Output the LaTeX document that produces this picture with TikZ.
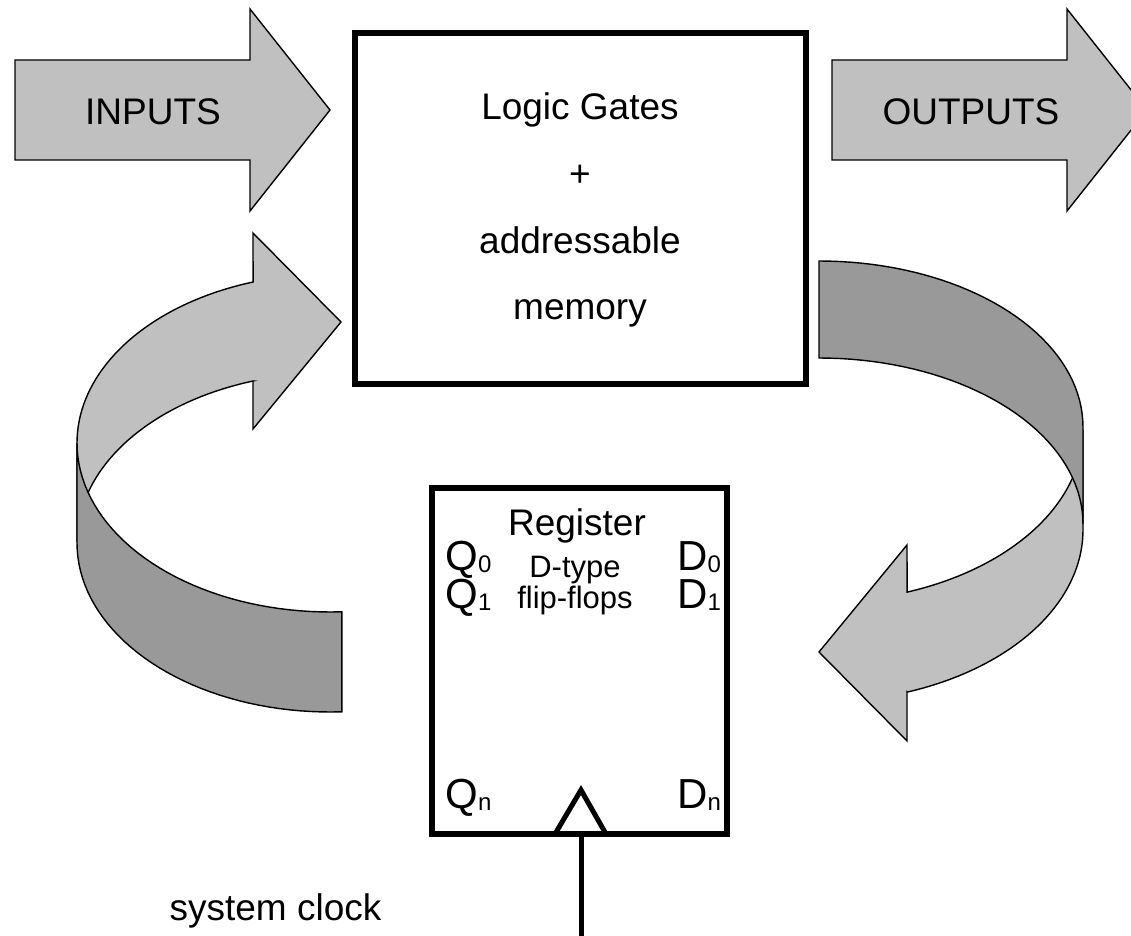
\documentclass[tikz,border=0pt]{standalone}
\usepackage{fontspec}
\setmainfont{Liberation Sans}
\usetikzlibrary{calc}

\definecolor{lightgrey}{RGB}{192,192,192}
\definecolor{darkgrey}{RGB}{153,153,153}

\newcommand{\bigtxt}{\fontsize{18.5}{20}\selectfont}
\newcommand{\midtxt}{\fontsize{15.5}{17}\selectfont}
\newcommand{\pin}[2]{{\fontsize{21}{22}\selectfont #1}\raisebox{-1.2pt}{\fontsize{12}{12}\selectfont #2}}

\begin{document}
\begin{tikzpicture}[x=0.5pt,y=-0.5pt,
    flat/.style={draw,line width=0.7pt,fill=lightgrey,line join=miter},
    back/.style={draw,line width=0.7pt,fill=darkgrey},
    block/.style={draw,line width=3pt,fill=white,inner sep=0pt},
    txt/.style={inner sep=0pt,anchor=base}]
    \useasboundingbox (0,0) rectangle (1131,936);
    \clip (0,0) rectangle (1131,936);

    % straight arrows
    \draw[flat] (15,60) -- (250,60) -- (250,9) -- (330,110) -- (250,211) -- (250,160) -- (15,160) -- cycle;
    \draw[flat] (832,60) -- (1067,60) -- (1067,9) -- (1147,110) -- (1067,211) -- (1067,160) -- (832,160) -- cycle;
    \node[txt] (inputs) at (153,125) {\bigtxt INPUTS};
    \node[txt] (outputs) at (971,125) {\bigtxt OUTPUTS};

    % feedback ribbons, front part
    \draw[flat] plot[domain=180:252.3,samples=40,variable=\t] ({330+253*cos(\t)},{443+169*sin(\t)})
        -- (253,233) -- (341,322) -- (253,429) -- (253,381)
        -- plot[domain=252.3:180,samples=40,variable=\t] ({330+253*cos(\t)},{542+169*sin(\t)}) -- cycle;
    \draw[flat] plot[domain=0:70.5,samples=40,variable=\t] ({819+264*cos(\t)},{430+172*sin(\t)})
        -- (907,545) -- (819,652) -- (907,741) -- (907,692)
        -- plot[domain=70.5:0,samples=40,variable=\t] ({819+264*cos(\t)},{530+172*sin(\t)}) -- cycle;
    % back part
    \draw[back] plot[domain=180:87.3,samples=40,variable=\t] ({330+253*cos(\t)},{443+169*sin(\t)})
        -- plot[domain=87.3:180,samples=40,variable=\t] ({330+253*cos(\t)},{543+169*sin(\t)}) -- cycle;
    \draw[back] plot[domain=270:360,samples=40,variable=\t] ({819+264*cos(\t)},{427+166*sin(\t)})
        -- plot[domain=360:270,samples=40,variable=\t] ({819+264*cos(\t)},{524+166*sin(\t)}) -- cycle;

    % logic block
    \node[block,minimum width=225.5pt,minimum height=175.5pt] (logic) at (580.5,208.5) {};
    \node[txt] (gates) at (580,120) {\bigtxt Logic Gates};
    \node[txt] (plus) at (580,187) {\bigtxt +};
    \node[txt] (addr) at (580,254) {\bigtxt addressable};
    \node[txt] (mem) at (580,320) {\bigtxt memory};

    % register
    \node[block,minimum width=147.5pt,minimum height=173pt] (reg) at (579.5,661) {};
    \node[txt] (regname) at (577,535) {\bigtxt Register};
    \node[txt] (dtype) at (575,577) {\midtxt D-type};
    \node[txt] (ff) at (575,608) {\midtxt flip-flops};
    \foreach \n/\y in {0/570,1/608,n/808}{
        \node[txt,anchor=base west] (q\n) at (445,\y) {\pin{Q}{\n}};
        \node[txt,anchor=base west] (d\n) at (677,\y) {\pin{D}{\n}};
    }

    % clock
    \coordinate (clk) at (581,936);
    \coordinate (ck) at (clk |- reg.south);
    \draw[line width=2.5pt] (clk) -- (ck);
    \draw[line width=2.5pt,line join=miter] (ck) ++(-26,-3) -- ++(26,-44) -- ++(25,44);
    \node[txt] (sysclk) at (275.5,920) {\bigtxt system clock};
\end{tikzpicture}
\end{document}
